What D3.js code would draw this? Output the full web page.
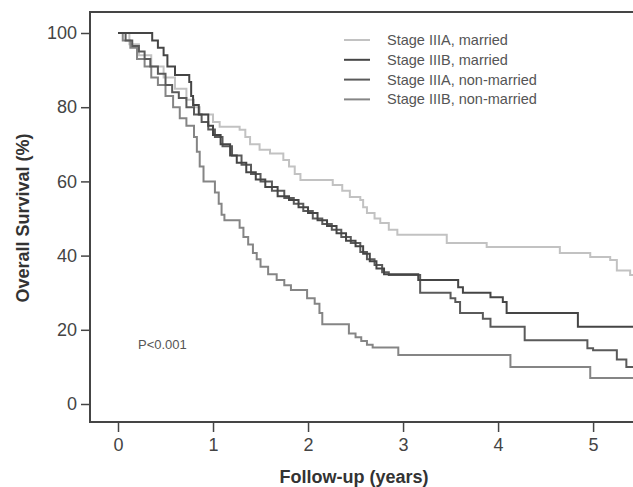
<!DOCTYPE html>
<html>
<head>
<meta charset="utf-8">
<script src="https://cdn.jsdelivr.net/npm/d3@7/dist/d3.min.js"></script>
<style>
  html, body { margin: 0; padding: 0; background: #fff; }
  svg { display: block; }
  text { font-family: "Liberation Sans", Arial, sans-serif; }
</style>
</head>
<body>
<svg id="chart" width="633" height="487"></svg>
<script>
// Kaplan-Meier step data: [years, survival %]
const seriesNames = ["Stage IIIA, married", "Stage IIIB, married", "Stage IIIA, non-married", "Stage IIIB, non-married"];
const seriesColors = ["#c2c2c2", "#454545", "#5a5a5a", "#858585"];

const iiiaMarried = [
  [0,100],[0.12,97],[0.22,94],[0.35,91],[0.48,88],[0.6,85],[0.72,82],[0.8,80],[0.86,78],
  [1.0,76],[1.07,74.7],[1.28,73.9],[1.34,72],[1.39,70],[1.49,68.5],[1.6,67.5],[1.74,65.8],
  [1.8,64],[1.86,62],[1.92,60.4],[2.26,59],[2.36,57.5],[2.44,55.8],[2.55,55],[2.58,53],
  [2.62,51.5],[2.7,50],[2.76,48.8],[2.85,47],[2.94,45.6],[3.46,43.4],[3.88,42.3],
  [4.65,40.7],[4.97,39.6],[5.18,38.8],[5.25,36],[5.39,34.8]
];
const iiibMarried = [
  [0,100],[0.36,98],[0.42,96],[0.48,94],[0.52,91],[0.6,88.7],[0.75,86.8],[0.77,83],
  [0.79,80.6],[0.85,78],[0.95,75],[1.0,72.5],[1.08,70],[1.18,67],[1.25,65],[1.35,62.5],
  [1.45,60.5],[1.55,58.5],[1.68,56],[1.8,55],[1.9,53],[2.0,51.5],[2.1,49.5],[2.2,48],
  [2.3,46],[2.4,44],[2.5,42.5],[2.58,40.5],[2.65,38.5],[2.72,36.5],[2.8,35],
  [3.16,33.4],[3.58,31.5],[3.63,30],[3.92,28.8],[4.05,27.5],[4.09,24.5],[4.84,20.8]
];
const iiiaNonMarried = [
  [0,100],[0.08,98],[0.15,96.5],[0.22,95],[0.28,93],[0.34,91],[0.42,89],[0.5,86],
  [0.57,84],[0.64,82.5],[0.72,80],[0.8,78],[0.88,76],[0.95,74],[1.02,72],[1.1,69.5],
  [1.2,67],[1.3,64.5],[1.4,62],[1.5,60],[1.62,57.5],[1.75,55.5],[1.85,54],[1.95,52],
  [2.05,50],[2.15,48.5],[2.25,47],[2.35,45],[2.45,43.4],[2.55,41],[2.62,39],[2.7,37.5],
  [2.78,35.5],[2.85,34.8],[3.18,30],[3.5,28.5],[3.55,27.5],[3.6,24.5],[3.84,23],
  [3.92,20.8],[4.28,17.2],[4.94,15],[5.0,14.5],[5.25,12],[5.35,10]
];
const iiibNonMarried = [
  [0,100],[0.05,98],[0.13,96],[0.2,93],[0.28,91],[0.35,88],[0.42,86],[0.5,83],[0.58,80],
  [0.65,77],[0.72,75],[0.8,72],[0.83,68],[0.86,64],[0.9,60],[1.02,57],[1.06,54],
  [1.09,51],[1.12,49.5],[1.28,47.5],[1.32,45],[1.37,43],[1.42,40.7],[1.46,39],[1.5,37],
  [1.58,35],[1.67,33.4],[1.75,32],[1.82,30.7],[1.99,28.5],[2.07,27],[2.12,24.5],
  [2.15,21.5],[2.43,19],[2.5,18],[2.56,17],[2.62,16],[2.68,15.2],[2.95,13.2],
  [4.13,10],[4.97,7]
];
const seriesData = [iiiaMarried, iiibMarried, iiiaNonMarried, iiibNonMarried];

const xTicks = [0, 1, 2, 3, 4, 5];
const yTicks = [0, 20, 40, 60, 80, 100];
const xMax = 5.42;
const pLabel = "P<0.001";

const svg = d3.select("#chart");
const x = d3.scaleLinear().domain([0, xMax]).range([118, 633]);
const y = d3.scaleLinear().domain([0, 100]).range([404, 33]);

const frameLeft = 90, frameTop = 12, frameBottom = 422, frameRight = 633;
const axisColor = "#454545";

// frame: left, top and bottom edges
svg.append("path")
  .attr("d", `M${frameRight},${frameTop}H${frameLeft}V${frameBottom}H${frameRight}`)
  .attr("fill", "none").attr("stroke", axisColor).attr("stroke-width", 2);

// y axis ticks and labels
const yAxis = d3.axisLeft(y).tickValues(yTicks).tickFormat(d3.format("d")).tickSize(9).tickPadding(4);
svg.append("g").attr("transform", `translate(${frameLeft},0)`).call(yAxis)
  .call(g => g.select(".domain").remove())
  .call(g => g.selectAll("line").attr("stroke", axisColor).attr("stroke-width", 1.5))
  .call(g => g.selectAll("text").attr("font-size", 18).attr("fill", "#444")
    .attr("font-family", "Liberation Sans, Arial, sans-serif"));

// x axis ticks and labels
const xAxis = d3.axisBottom(x).tickValues(xTicks).tickFormat(d3.format("d")).tickSize(10).tickPadding(6);
svg.append("g").attr("transform", `translate(0,${frameBottom})`).call(xAxis)
  .call(g => g.select(".domain").remove())
  .call(g => g.selectAll("line").attr("stroke", axisColor).attr("stroke-width", 1.5))
  .call(g => g.selectAll("text").attr("font-size", 18).attr("fill", "#444")
    .attr("font-family", "Liberation Sans, Arial, sans-serif"));

// axis titles
svg.append("text").attr("x", 354).attr("y", 483).attr("text-anchor", "middle")
  .attr("font-size", 18).attr("font-weight", "bold").attr("fill", "#333")
  .text("Follow-up (years)");
svg.append("text").attr("transform", "translate(29,218) rotate(-90)")
  .attr("text-anchor", "middle").attr("font-size", 18).attr("font-weight", "bold")
  .attr("fill", "#333").text("Overall Survival (%)");

// survival curves
svg.append("clipPath").attr("id", "plotClip")
  .append("rect").attr("x", frameLeft).attr("y", frameTop).attr("width", frameRight - frameLeft)
  .attr("height", frameBottom - frameTop);

const line = d3.line().x(d => x(d[0])).y(d => y(d[1])).curve(d3.curveStepAfter);
const curves = svg.append("g").attr("clip-path", "url(#plotClip)");
// draw light curve first so darker ones sit above it
[0, 3, 2, 1].forEach(i => {
  const pts = seriesData[i].concat([[xMax, seriesData[i][seriesData[i].length - 1][1]]]);
  curves.append("path").datum(pts).attr("d", line)
    .attr("fill", "none").attr("stroke", seriesColors[i]).attr("stroke-width", 2);
});

// legend
const legend = svg.append("g");
seriesNames.forEach((name, i) => {
  const ly = 40 + i * 19.8;
  legend.append("line").attr("x1", 344).attr("x2", 370).attr("y1", ly).attr("y2", ly)
    .attr("stroke", seriesColors[i]).attr("stroke-width", 2);
  legend.append("text").attr("x", 387).attr("y", ly + 5).attr("font-size", 14.5)
    .attr("fill", "#555").text(name);
});

// log-rank p value
svg.append("text").attr("x", 138).attr("y", 349).attr("font-size", 13)
  .attr("fill", "#555").text(pLabel);
</script>
</body>
</html>
